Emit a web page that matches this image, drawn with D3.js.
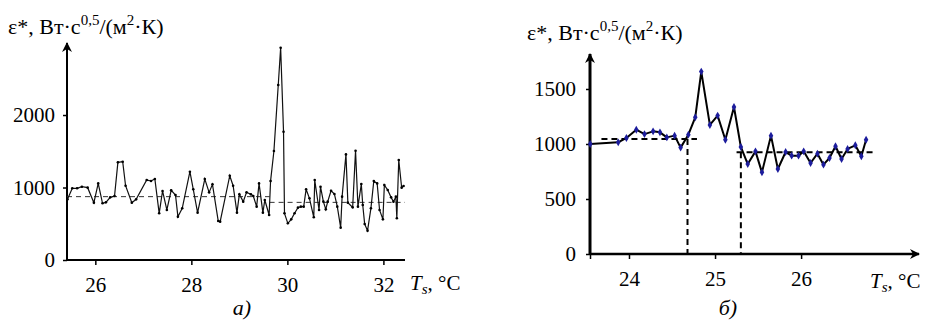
<!DOCTYPE html>
<html>
<head>
<meta charset="utf-8">
<script src="https://cdn.jsdelivr.net/npm/d3@7"></script>
<style>
  body { margin: 0; background: #fff; }
</style>
</head>
<body>
<div id="chart"></div>
<script>
// panel a) : surface temperature Ts (°C) vs effusivity
const tempA = [25.42, 25.52, 25.62, 25.72, 25.84, 25.97, 26.06, 26.15, 26.22, 26.31,
  26.40, 26.47, 26.57, 26.63, 26.76, 26.85, 27.07, 27.16, 27.24, 27.33,
  27.40, 27.49, 27.58, 27.67, 27.72, 27.81, 27.97, 28.04, 28.13, 28.28,
  28.37, 28.44, 28.56, 28.60, 28.80, 28.87, 28.95, 29.00, 29.08, 29.15,
  29.24, 29.29, 29.36, 29.41, 29.49, 29.53, 29.62, 29.65, 29.72, 29.81,
  29.86, 29.92, 29.94, 30.01, 30.08, 30.15, 30.22, 30.28, 30.34, 30.39,
  30.46, 30.55, 30.57, 30.66, 30.69, 30.75, 30.80, 30.84, 30.91, 30.98,
  31.04, 31.11, 31.14, 31.22, 31.26, 31.36, 31.42, 31.47, 31.54, 31.57,
  31.61, 31.67, 31.74, 31.80, 31.87, 31.92, 31.99, 32.02, 32.09, 32.16,
  32.21, 32.26, 32.28, 32.32, 32.38, 32.42];
const epsA = [837, 989, 989, 1011, 998, 791, 1057, 782, 795, 864,
  883, 1347, 1356, 1025, 791, 837, 1103, 1090, 1117, 644,
  952, 690, 961, 897, 598, 713, 1218, 975, 653, 1117,
  933, 1044, 538, 529, 1163, 1025, 653, 906, 805, 933,
  906, 883, 736, 1057, 653, 828, 621, 1090, 1503, 2414,
  2929, 1770, 644, 506, 561, 644, 722, 736, 736, 975,
  851, 589, 1103, 690, 1011, 805, 699, 805, 956, 910,
  736, 446, 874, 1457, 791, 726, 1508, 736, 1048, 759,
  497, 405, 713, 1090, 1057, 690, 561, 1034, 966, 864,
  805, 874, 575, 1379, 998, 1021];
// mean levels (from T, to T, value)
const levelsA = [[25.41, 29.63, 874], [29.63, 32.45, 795]];
const xTicksA = [26, 28, 30, 32];
const yTicksA = [0, 1000, 2000];

// panel б)
const tempB = [23.55, 23.875, 23.97, 24.085, 24.18, 24.28, 24.36, 24.44, 24.53, 24.60,
  24.69, 24.77, 24.84, 24.94, 25.03, 25.12, 25.22, 25.30, 25.38, 25.47,
  25.545, 25.65, 25.73, 25.82, 25.89, 25.97, 26.03, 26.11, 26.19, 26.26,
  26.33, 26.40, 26.47, 26.54, 26.63, 26.70, 26.755];
const epsB = [1000, 1015, 1055, 1130, 1090, 1115, 1106, 1060, 1076, 967,
  1085, 1242, 1658, 1173, 1258, 1039, 1336, 973, 818, 933,
  742, 1076, 773, 927, 894, 894, 933, 827, 912, 812,
  873, 979, 864, 955, 988, 888, 1039];
// plateaus: from T, to T, level, transition T
const levelsB = [[23.68, 24.79, 1045, 24.68], [25.25, 26.85, 924, 25.30]];
const xTicksB = [24, 25, 26];
const yTicksB = [0, 500, 1000, 1500];

const serif = "'Times New Roman', 'Liberation Serif', 'DejaVu Serif', serif";
const width = 928, height = 323;
const svg = d3.select('#chart').append('svg')
  .attr('width', width).attr('height', height)
  .style('display', 'block')
  .attr('viewBox', `0 0 ${width} ${height}`);

svg.append('defs').append('marker')
  .attr('id', 'arrow').attr('viewBox', '0 0 10 10')
  .attr('refX', 9).attr('refY', 5)
  .attr('markerWidth', 10).attr('markerHeight', 10)
  .attr('markerUnits', 'userSpaceOnUse')
  .attr('orient', 'auto')
  .append('path').attr('d', 'M0,0 L10,5 L0,10 L3,5 Z').attr('fill', '#000');

function yTitle(x, y) {
  const t = svg.append('text').attr('x', x).attr('y', y)
    .style('font-family', serif).attr('font-size', 22).attr('fill', '#000');
  t.append('tspan').text('ε*, Вт·с');
  t.append('tspan').attr('dy', -9).attr('font-size', 15).text('0,5');
  t.append('tspan').attr('dy', 9).text('/(м');
  t.append('tspan').attr('dy', -9).attr('font-size', 15).text('2');
  t.append('tspan').attr('dy', 9).text('·К)');
}

function xTitle(x, y) {
  const t = svg.append('text').attr('x', x).attr('y', y)
    .style('font-family', serif).attr('font-size', 21).attr('fill', '#000');
  t.append('tspan').attr('font-style', 'italic').text('T');
  t.append('tspan').attr('font-style', 'italic').attr('font-size', 15).attr('dy', 4).text('s');
  t.append('tspan').attr('dy', -4).text(', °C');
}

const fmt = d3.format('d');

// ---------- panel a ----------
const xA = d3.scaleLinear().domain([25.41, 32.45]).range([67, 405]);
const yA = d3.scaleLinear().domain([0, 2966]).range([260, 45]);

const gA = svg.append('g');
gA.append('g').attr('transform', `translate(0,${yA(0)})`)
  .call(d3.axisBottom(xA).tickValues(xTicksA).tickFormat(fmt).tickSize(5).tickPadding(12))
  .call(g => g.select('.domain').attr('stroke-width', 2).attr('d', `M${xA.range()[0]},0H${xA.range()[1]}`));
gA.append('g').attr('transform', `translate(${xA(25.41)},0)`)
  .call(d3.axisLeft(yA).tickValues(yTicksA).tickFormat(fmt).tickSize(4).tickPadding(8))
  .call(g => g.select('.domain').remove());
gA.append('line')
  .attr('x1', xA(25.41)).attr('x2', xA(25.41))
  .attr('y1', yA(0)).attr('y2', yA(2966) - 2)
  .attr('stroke', '#000').attr('stroke-width', 2)
  .attr('marker-end', 'url(#arrow)');

gA.selectAll('.lvl').data(levelsA).join('line')
  .attr('x1', d => xA(d[0])).attr('x2', d => xA(d[1]))
  .attr('y1', d => yA(d[2])).attr('y2', d => yA(d[2]))
  .attr('stroke', '#333').attr('stroke-width', 1).attr('stroke-dasharray', '5,4');

const ptsA = tempA.map((t, i) => [t, epsA[i]]);
gA.append('path').datum(ptsA)
  .attr('fill', 'none').attr('stroke', '#111').attr('stroke-width', 1.2)
  .attr('d', d3.line().x(d => xA(d[0])).y(d => yA(d[1])));
gA.selectAll('.dot').data(ptsA).join('circle')
  .attr('cx', d => xA(d[0])).attr('cy', d => yA(d[1])).attr('r', 1.3).attr('fill', '#000');

// ---------- panel б ----------
const xB = d3.scaleLinear().domain([23.547, 27.37]).range([590, 919]);
const yB = d3.scaleLinear().domain([0, 1818]).range([254, 54]);

const gB = svg.append('g');
gB.append('g').attr('transform', `translate(0,${yB(0)})`)
  .call(d3.axisBottom(xB).tickValues([23.547].concat(xTicksB)).tickFormat(d => xTicksB.includes(d) ? fmt(d) : '')
    .tickSize(5).tickPadding(12))
  .call(g => g.select('.domain').remove());
gB.append('line')
  .attr('x1', xB(23.547)).attr('x2', xB(27.37))
  .attr('y1', yB(0)).attr('y2', yB(0))
  .attr('stroke', '#000').attr('stroke-width', 2.5)
  .attr('marker-end', 'url(#arrow)');
gB.append('g').attr('transform', `translate(${xB(23.547)},0)`)
  .call(d3.axisLeft(yB).tickValues(yTicksB).tickFormat(fmt).tickSize(4).tickPadding(10))
  .call(g => g.select('.domain').remove());
gB.append('line')
  .attr('x1', xB(23.547)).attr('x2', xB(23.547))
  .attr('y1', yB(0) + 1).attr('y2', yB(1818))
  .attr('stroke', '#000').attr('stroke-width', 3)
  .attr('marker-end', 'url(#arrow)');

gB.selectAll('.lvl').data(levelsB).join('line')
  .attr('x1', d => xB(d[0])).attr('x2', d => xB(d[1]))
  .attr('y1', d => yB(d[2])).attr('y2', d => yB(d[2]))
  .attr('stroke', '#000').attr('stroke-width', 2).attr('stroke-dasharray', '6,4');
gB.selectAll('.drop').data(levelsB).join('line')
  .attr('x1', d => xB(d[3])).attr('x2', d => xB(d[3]))
  .attr('y1', d => yB(d[2])).attr('y2', yB(0))
  .attr('stroke', '#000').attr('stroke-width', 2).attr('stroke-dasharray', '6,4');

const ptsB = tempB.map((t, i) => [t, epsB[i]]);
gB.append('path').datum(ptsB)
  .attr('fill', 'none').attr('stroke', '#000').attr('stroke-width', 2)
  .attr('stroke-linejoin', 'round')
  .attr('d', d3.line().x(d => xB(d[0])).y(d => yB(d[1])));
gB.selectAll('.mk').data(ptsB).join('path')
  .attr('transform', d => `translate(${xB(d[0])},${yB(d[1])})`)
  .attr('d', d3.symbol(d3.symbolDiamond, 18))
  .attr('fill', '#1c1c9c');

// shared text styling
svg.selectAll('.tick text').attr('font-size', 21).attr('fill', '#000')
  .style('font-family', serif);
svg.selectAll('.tick line').attr('stroke', '#000').attr('stroke-width', 1.5);

yTitle(8, 34);
yTitle(527, 40);
xTitle(410, 290);
xTitle(870, 288);

svg.append('text').attr('x', 242).attr('y', 315).attr('text-anchor', 'middle')
  .style('font-family', serif)
  .attr('font-size', 22).attr('font-style', 'italic').text('а)');
svg.append('text').attr('x', 728).attr('y', 315).attr('text-anchor', 'middle')
  .style('font-family', serif)
  .attr('font-size', 22).attr('font-style', 'italic').text('б)');
</script>
</body>
</html>
